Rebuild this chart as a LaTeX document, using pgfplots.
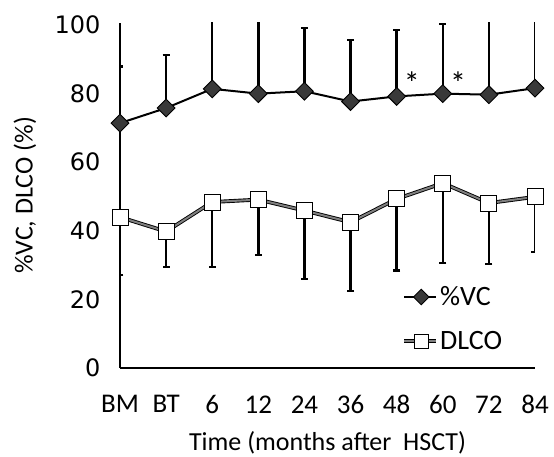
\documentclass[border=0pt]{standalone}
\usepackage{pgfplots}
\pgfplotsset{compat=1.18}
\usepackage{fontspec}
\setmainfont{Carlito}
\newfontfamily\tickfont{DejaVu Sans}

% x: 0=BM, 1=BT, 2=6, ... 9=84 months
\pgfplotstableread{
x   vc    vcerr  dl    dlerr
0   71.4  16.5   44.0  16.8
1   75.8  15.4   39.8  10.4
2   81.4  30.0   48.4  19.0
3   80.0  30.0   49.1  16.1
4   80.7  18.4   45.9  20.0
5   77.7  18.0   42.5  20.0
6   79.2  19.4   49.3  20.9
7   80.0  20.3   53.9  23.3
8   79.7  30.0   48.1  17.7
9   81.6  30.0   49.9  16.1
}\datatable

\begin{document}
\begin{tikzpicture}
\useasboundingbox (-120pt,-89pt) rectangle (434pt,368pt);
\begin{axis}[
  at={(0pt,0pt)}, anchor=south west,
  scale only axis, width=415pt, height=345pt,
  xmin=0, xmax=9, ymin=0, ymax=100.6,
  axis x line*=bottom, axis y line*=left,
  axis line style={-, line width=2pt},
  major tick length=0pt,
  xtick={0,...,9},
  xticklabels={BM,BT,6,12,24,36,48,60,72,84},
  ytick={0,20,...,100},
  /pgf/number format/assume math mode=true,
  yticklabel style={font=\tickfont\fontsize{24}{26}\selectfont, xshift=-16pt},
  xticklabel style={font=\fontsize{27}{29}\selectfont, yshift=-24pt},
  xlabel={Time (months after\ \ HSCT)},
  ylabel={\%VC, DLCO (\%)},
  every axis y label/.style={at={(axis description cs:-0.229,0.5)}, rotate=90, anchor=center,
    font=\fontsize{26}{28}\selectfont},
  every axis x label/.style={at={(axis description cs:0.5,0)}, anchor=center, yshift=-75pt,
    font=\fontsize{26}{28}\selectfont},
  legend style={at={(rel axis cs:0.68,0.242)}, anchor=north west, draw=none, fill=none,
    inner sep=0pt, row sep=20pt, cells={anchor=west},
    nodes={font=\fontsize{28}{30}\selectfont}},
  legend cell align=left,
  every error bar/.append style={line width=2.4pt, draw=black},
  clip=true,
]
% error bars first, so the markers sit on top
\addplot[forget plot, only marks, mark=none, line width=2.4pt,
  error bars/.cd, y dir=plus, y explicit,
  error mark options={rotate=90, draw=black, mark size=3.5pt, line width=2.4pt}]
  table[x=x, y=vc, y error=vcerr]{\datatable};
\addplot[forget plot, only marks, mark=none, line width=2.4pt,
  error bars/.cd, y dir=minus, y explicit,
  error mark options={rotate=90, draw=black, mark size=3.5pt, line width=2.4pt}]
  table[x=x, y=dl, y error=dlerr]{\datatable};

% DLCO: grey double line, white squares
\addplot[forget plot, draw=black, line width=0.9pt, double=gray, double distance=2pt, mark=none]
  table[x=x, y=dl]{\datatable};
\addplot[forget plot, only marks, mark=square*, mark size=8pt,
  mark options={fill=white, draw=black, line width=0.9pt}]
  table[x=x, y=dl]{\datatable};

% %VC: black line, dark diamonds
\addplot[forget plot, black, line width=2pt, mark=square*, mark size=6.3pt,
  mark options={rotate=45, fill=gray!45!black, draw=black, line width=0.9pt}]
  table[x=x, y=vc]{\datatable};

\addlegendimage{legend image code/.code={
  \draw[black, line width=2pt] (0pt,0pt) -- (32pt,0pt);
  \draw[black, line width=0.9pt, fill=gray!45!black] plot[mark=square*, mark size=5.5pt, mark options={rotate=45}] coordinates {(17pt,0pt)};
}}
\addlegendentry{\%VC}
\addlegendimage{legend image code/.code={
  \draw[black, line width=0.9pt, double=gray, double distance=2pt] (0pt,0pt) -- (32pt,0pt);
  \draw[black, line width=0.9pt, fill=white] plot[mark=square*, mark size=7pt] coordinates {(17pt,0pt)};
}}
\addlegendentry{DLCO}

\node[font=\fontsize{32}{34}\selectfont] at (axis cs:6.33,83) {*};
\node[font=\fontsize{32}{34}\selectfont] at (axis cs:7.33,83) {*};
\end{axis}
\end{tikzpicture}
\end{document}
